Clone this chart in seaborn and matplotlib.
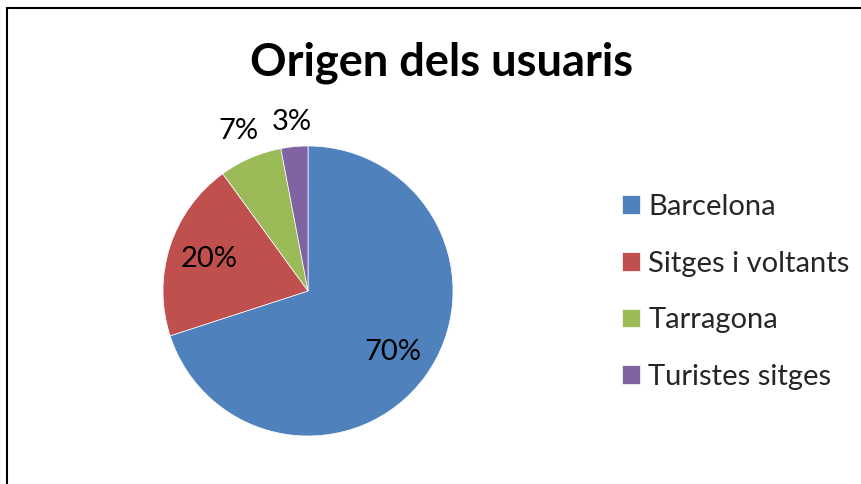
import matplotlib
matplotlib.use("Agg")
import matplotlib.pyplot as plt
import numpy as np
import seaborn as sns
from matplotlib.patches import Rectangle

# dades
categories = ["Barcelona", "Sitges i voltants", "Tarragona", "Turistes sitges"]
percentatges = [70, 20, 7, 3]
colors = ["#4F81BD", "#C0504D", "#9BBB59", "#8064A2"]
titol = "Origen dels usuaris"

sns.set_theme(style="white")
plt.rcParams['font.family'] = ['Lato', 'DejaVu Sans']

W, H = 862, 484
fig = plt.figure(figsize=(W / 100, H / 100), dpi=100)
fig.patch.set_facecolor("white")

# pie: centre (308, 291) px, radi 145 px
cx, cy, r = 308, 291, 145
half = 1.25 * r
ax = fig.add_axes([(cx - half) / W, (H - cy - half) / H, 2 * half / W, 2 * half / H])

wedges, texts, autotexts = ax.pie(
    percentatges, colors=sns.color_palette(colors), startangle=90, counterclock=False,
    autopct=lambda p: f"{p:.0f}%", pctdistance=0.72,
    wedgeprops=dict(linewidth=0.5, edgecolor="white"),
    textprops=dict(fontsize=21, color="black"))
ax.set_xlim(-1.25, 1.25)
ax.set_ylim(-1.25, 1.25)
ax.set_aspect("equal")

# etiquetes petites fora del pastís
for w, t, p in zip(wedges, autotexts, percentatges):
    if p < 10:
        ang = np.deg2rad((w.theta1 + w.theta2) / 2)
        d = 1.2 if p > 5 else 1.17
        t.set_position((d * np.cos(ang), d * np.sin(ang)))

fig.text(442 / W, 1 - 75 / H, titol, ha="center", va="baseline",
         fontsize=32.5, fontweight="bold", color="black")

leg = fig.legend(wedges, categories, loc="center left",
                 bbox_to_anchor=(622 / W, 1 - 292 / H), frameon=False,
                 fontsize=21, handlelength=0.62, handleheight=0.62,
                 handletextpad=0.28, labelspacing=1.05, borderpad=0, borderaxespad=0)

# vora del gràfic
fig.add_artist(Rectangle((7.5 / W, -0.1), 1.2, 1.1 - 8.5 / H, transform=fig.transFigure,
                         fill=False, edgecolor="black", linewidth=1.5))

fig.savefig("out.png", dpi=100)
